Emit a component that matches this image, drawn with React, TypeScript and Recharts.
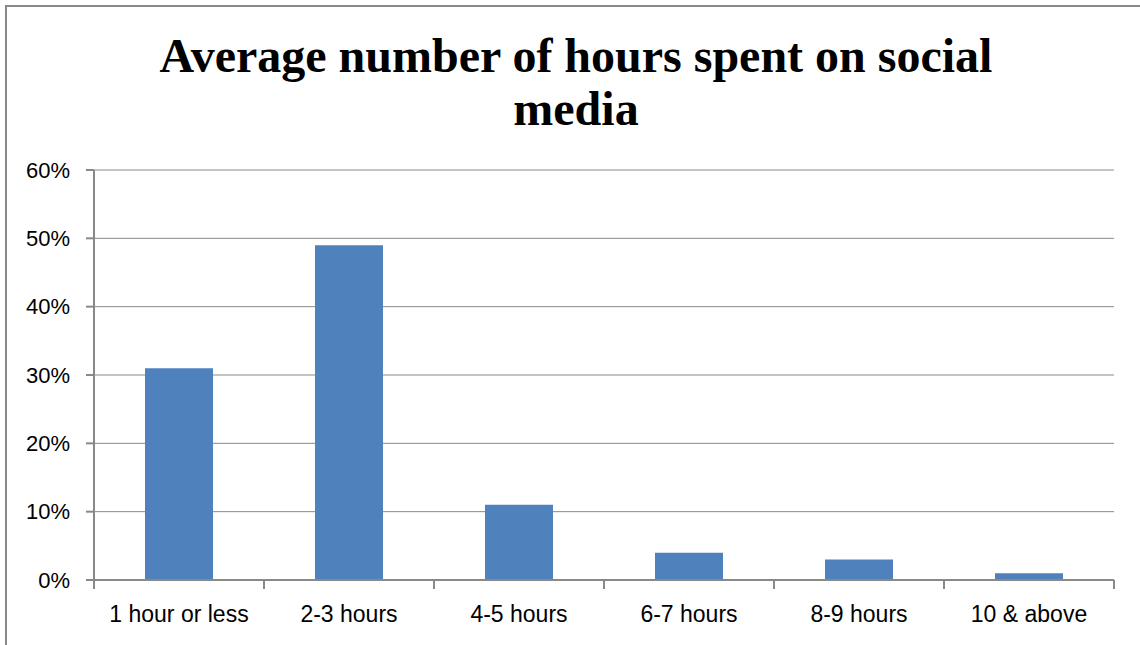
import { BarChart, Bar, XAxis, YAxis, CartesianGrid } from 'recharts';

const categories = ['1 hour or less', '2-3 hours', '4-5 hours', '6-7 hours', '8-9 hours', '10 & above'];
const shares = [0.31, 0.49, 0.11, 0.04, 0.03, 0.01];
const yTicks = [0, 0.1, 0.2, 0.3, 0.4, 0.5, 0.6];

const data = categories.map((name, i) => ({ name, value: shares[i] }));

const GRAY = '#898989';
const font = 'Liberation Sans, Arial, sans-serif';

// category label plus Excel-style tick marks on the category boundaries
const CategoryTick = (props: any) => {
  const { x, y, payload, index } = props;
  const half = payload.offset || 85;
  const last = index === categories.length - 1;
  return (
    <g>
      <line x1={x - half} x2={x - half} y1={y} y2={y + 9} stroke={GRAY} strokeWidth={2} />
      {last && <line x1={x + half} x2={x + half} y1={y} y2={y + 9} stroke={GRAY} strokeWidth={2} />}
      <text x={x} y={y + 26} dy="0.71em" textAnchor="middle" fontFamily={font} fontSize={23} fill="#000">
        {payload.value}
      </text>
    </g>
  );
};

export default function App() {
  return (
    <div style={{ position: 'absolute', left: 0, top: 0, width: 1140, height: 645, background: '#fff', overflow: 'hidden' }}>
      {/* chart frame, right and bottom edges fall outside the picture */}
      <div style={{ position: 'absolute', left: 5, top: 5, width: 1150, height: 660, border: `2px solid ${GRAY}` }} />

      <div
        style={{
          position: 'absolute',
          left: 0,
          top: 29,
          width: 1152,
          textAlign: 'center',
          fontFamily: 'Liberation Serif, "Times New Roman", serif',
          fontWeight: 'bold',
          fontSize: 48,
          lineHeight: '53px',
          color: '#000',
        }}
      >
        Average number of hours spent on social
        <br />
        media
      </div>

      <div style={{ position: 'absolute', left: 0, top: 0 }}>
        <BarChart
          width={1140}
          height={645}
          data={data}
          margin={{ top: 170, right: 26, bottom: 25, left: 0 }}
          barCategoryGap="30%"
        >
          <CartesianGrid vertical={false} stroke={GRAY} strokeWidth={1} />
          <XAxis
            dataKey="name"
            type="category"
            height={40}
            tickSize={0}
            tickMargin={0}
            tickLine={false}
            axisLine={{ stroke: GRAY, strokeWidth: 2 }}
            tick={<CategoryTick />}
            interval={0}
          />
          <YAxis
            width={94}
            domain={[0, 0.6]}
            ticks={yTicks}
            tickFormatter={(v: number) => `${Math.round(v * 100)}%`}
            tickSize={8}
            tickMargin={16}
            tickLine={{ stroke: GRAY, strokeWidth: 2 }}
            axisLine={{ stroke: GRAY, strokeWidth: 2 }}
            tick={{ fontFamily: font, fontSize: 22, fill: '#000' }}
          />
          <Bar dataKey="value" fill="#4F81BD" isAnimationActive={false} />
        </BarChart>
      </div>
    </div>
  );
}
